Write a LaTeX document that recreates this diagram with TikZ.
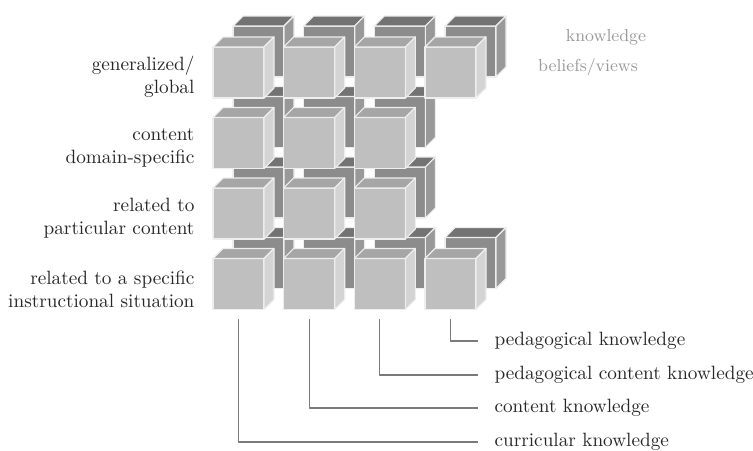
\documentclass[tikz,border=0pt]{standalone}
\usepackage{tikz}
\usetikzlibrary{positioning,calc}
\definecolor{cubeline}{HTML}{EEEEEE}
\definecolor{linkgray}{HTML}{7A7A7A}
\definecolor{layergray}{HTML}{9A9A9A}

% one cube: front face top-left at (#1,#2), styles for front, top and side face
\newcommand{\cubeat}[5]{%
    \filldraw[#3] (#1,#2) rectangle ++(51,51);
    \filldraw[#4] (#1,#2) -- ++(10,-10) -- ++(51,0) -- ++(-10,10) -- cycle;
    \filldraw[#5] (#1+51,#2) -- ++(10,-10) -- ++(0,51) -- ++(-10,10) -- cycle;
}

\begin{document}
\begin{tikzpicture}[
    x=0.52pt, y=-0.52pt,
    draw=cubeline, line width=0.6pt, line join=round,
    %
    backfront/.style={fill=black!45},
    backtop/.style={fill=black!55},
    backside/.style={fill=black!40},
    frontfront/.style={fill=black!25},
    fronttop/.style={fill=black!35},
    frontside/.style={fill=black!17},
    %
    rowlabel/.style={anchor=east, align=right, inner sep=0pt, text=black!85},
    tag/.style={anchor=west, inner sep=0pt, text=black!85},
    layerlabel/.style={inner sep=0pt, text=layergray, font=\small},
    link/.style={draw=linkgray, line width=0.6pt}
    ]

    \useasboundingbox (0,0) rectangle (753,450);

    % back layer (knowledge)
    \foreach \r/\m in {0/3,1/2,2/2,3/3} {
        \foreach \c in {0,...,\m} {
            \cubeat{233+70.67*\c}{26+70.5*\r}{backfront}{backtop}{backside}
        }
    }
    % front layer (beliefs/views)
    \foreach \r/\m in {0/3,1/2,2/2,3/3} {
        \foreach \c in {0,...,\m} {
            \cubeat{213+70.67*\c}{47+70.5*\r}{frontfront}{fronttop}{frontside}
        }
    }
    \foreach \c in {0,...,3} {
        \coordinate (foot\c) at (238.5+70.67*\c,319);
    }

    \node[layerlabel] (know) at (606,37) {knowledge};
    \node[layerlabel] (bel)  at (588,67) {beliefs/views};

    \node[rowlabel] (glob) at (195,77)  {generalized/\\global};
    \node[rowlabel] (dom)  at (195,148) {content\\domain-specific};
    \node[rowlabel] (part) at (195,218) {related to\\particular content};
    \node[rowlabel] (inst) at (195,289) {related to a specific\\instructional situation};

    \node[tag] (pk)  at (494,341) {pedagogical knowledge};
    \node[tag] (pck) at (494,375) {pedagogical content knowledge};
    \node[tag] (ck)  at (494,408) {content knowledge};
    \node[tag] (cur) at (494,442) {curricular knowledge};
    %
    \draw[link] (foot3) |- ($(pk.west)+(-16,0)$);
    \draw[link] (foot2) |- ($(pck.west)+(-16,0)$);
    \draw[link] (foot1) |- ($(ck.west)+(-16,0)$);
    \draw[link] (foot0) |- ($(cur.west)+(-16,0)$);

\end{tikzpicture}
\end{document}
